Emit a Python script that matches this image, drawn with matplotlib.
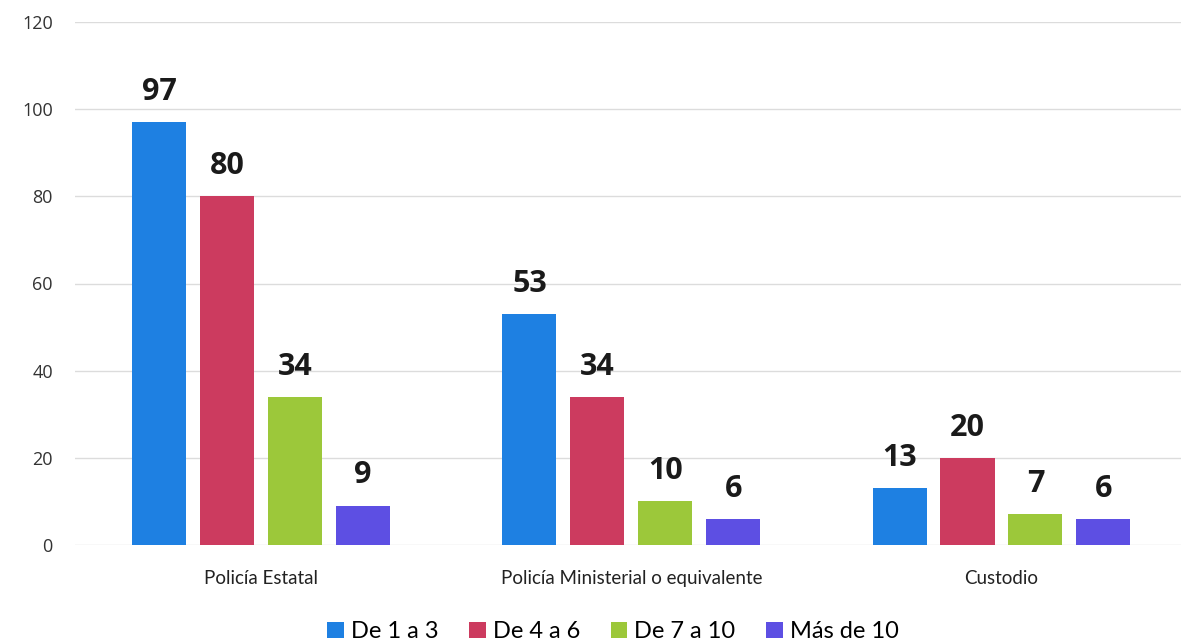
import numpy as np
import matplotlib.pyplot as plt
from matplotlib.patches import Patch

categorias = ['Policía Estatal', 'Policía Ministerial o equivalente', 'Custodio']
series = ['De 1 a 3', 'De 4 a 6', 'De 7 a 10', 'Más de 10']
de_1_a_3 = [97, 53, 13]
de_4_a_6 = [80, 34, 20]
de_7_a_10 = [34, 10, 7]
mas_de_10 = [9, 6, 6]
valores = [de_1_a_3, de_4_a_6, de_7_a_10, mas_de_10]
colores = ['#1e80e2', '#cc3b5f', '#9cc83a', '#5d4fe3']

fig = plt.figure(figsize=(11.81, 6.41), dpi=100)
ax = fig.add_axes([75/1181, 96/641, (1181-75)/1181, (545-22)/641])

x = np.arange(len(categorias))
paso = 0.1835
ancho = 0.146
for i, (vals, col) in enumerate(zip(valores, colores)):
    pos = x + (i - 1.5) * paso
    barras = ax.bar(pos, vals, ancho, color=col, zorder=3)
    for b, v in zip(barras, vals):
        ax.annotate(str(v), (b.get_x() + b.get_width()/2, v), xytext=(0, 11),
                    textcoords='offset points', ha='center', va='bottom',
                    fontsize=22, fontweight='bold', family='Open Sans', color='#1a1a1a')

ax.set_xlim(-0.503, 2.485)
ax.set_ylim(0, 120)
ax.set_yticks(range(0, 121, 20))
ax.set_xticks(x)
ax.set_xticklabels(categorias, fontsize=13.5, family='Lato', color='#222222')
for t in ax.get_yticklabels():
    t.set_family('Open Sans')
    t.set_fontsize(13)
    t.set_color('#333333')
ax.tick_params(axis='y', length=0, pad=16)
ax.tick_params(axis='x', length=0, pad=18)
ax.grid(axis='y', color='#dcdcdc', linewidth=1, zorder=0)
for s in ax.spines.values():
    s.set_visible(False)

manejadores = [Patch(facecolor=c, label=s) for c, s in zip(colores, series)]
fig.legend(handles=manejadores, loc='lower center', bbox_to_anchor=(0.519, -0.035),
           ncol=4, frameon=False, prop={'family': 'Lato', 'size': 17},
           handlelength=0.7, handleheight=0.7, handletextpad=0.3, columnspacing=1.3)

fig.savefig('out.png', dpi=100, facecolor='white')
